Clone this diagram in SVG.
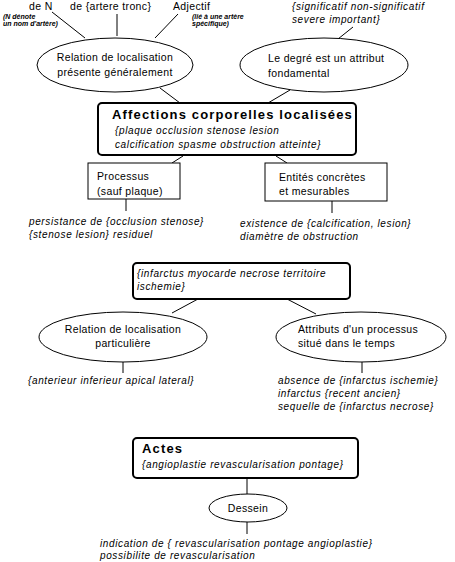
<svg xmlns="http://www.w3.org/2000/svg" width="455" height="562" viewBox="0 0 455 562">
<style>
text{font-family:"Liberation Sans",Arial,sans-serif;fill:#000}
.r{font-size:10.5px;letter-spacing:0.35px}
.i{font-size:10px;font-style:italic;letter-spacing:0.62px}
.t{font-size:7px;font-style:italic;font-weight:bold}
.b{font-size:13px;font-weight:bold;letter-spacing:1.15px}
.m{text-anchor:middle}
.shape{fill:#fff;stroke:#000;stroke-width:1}
.thick{fill:#fff;stroke:#000;stroke-width:2}
.c line{stroke:#000;stroke-width:1}
</style>
<rect width="455" height="562" fill="#fff"/>
<g class="c" id="connectors">
<line x1="52" y1="12" x2="85" y2="38"/>
<line x1="117" y1="14" x2="117" y2="36"/>
<line x1="178" y1="14" x2="155" y2="38"/>
<line x1="353" y1="27" x2="338" y2="39"/>
<line x1="160" y1="88" x2="180" y2="103"/>
<line x1="290" y1="90" x2="268" y2="103"/>
<line x1="183" y1="156" x2="172" y2="163"/>
<line x1="276" y1="156" x2="287" y2="163"/>
<line x1="126" y1="199" x2="126" y2="211"/>
<line x1="332" y1="201" x2="332" y2="213"/>
<line x1="198" y1="299" x2="172" y2="313"/>
<line x1="287" y1="299" x2="316" y2="314"/>
<line x1="123" y1="362" x2="123" y2="373"/>
<line x1="362" y1="362" x2="362" y2="373"/>
<line x1="247" y1="478" x2="247" y2="494"/>
<line x1="247" y1="522" x2="247" y2="534"/>
</g>
<g id="top-labels">
<text class="r" x="29" y="10">de N</text>
<text class="r" x="70" y="10">de {artere tronc}</text>
<text class="r" x="173" y="10">Adjectif</text>
<text class="t" x="3" y="19">(N dénote</text>
<text class="t" x="3" y="26">un nom d'artère)</text>
<text class="t" x="192" y="19">(lié à une artère</text>
<text class="t" x="192" y="26">spécifique)</text>
<text class="i" x="292" y="10">{significatif non-significatif</text>
<text class="i" x="292" y="23">severe important}</text>
</g>
<g id="rel-loc-generale">
<ellipse class="shape" cx="115" cy="65" rx="78" ry="27"/>
<text class="r m" x="115" y="61">Relation de localisation</text>
<text class="r m" x="115" y="76">présente généralement</text>
</g>
<g id="degre">
<ellipse class="shape" cx="324" cy="65" rx="84" ry="27"/>
<text class="r" x="268" y="62">Le degré est un attribut</text>
<text class="r" x="268" y="77">fondamental</text>
</g>
<g id="affections">
<rect class="thick" x="98" y="103" width="258" height="52" rx="4"/>
<text class="b" x="112" y="119">Affections corporelles localisées</text>
<text class="i" x="115" y="134">{plaque occlusion stenose lesion</text>
<text class="i" x="115" y="148">calcification spasme obstruction atteinte}</text>
</g>
<g id="processus">
<rect class="shape" x="88" y="163" width="92" height="36"/>
<text class="r" x="97" y="180">Processus</text>
<text class="r" x="97" y="195">(sauf plaque)</text>
</g>
<g id="entites">
<rect class="shape" x="265" y="163" width="122" height="38"/>
<text class="r" x="279" y="181">Entités concrètes</text>
<text class="r" x="279" y="195">et mesurables</text>
</g>
<g id="processus-notes">
<text class="i" x="29" y="225">persistance de {occlusion stenose}</text>
<text class="i" x="29" y="238">{stenose lesion} residuel</text>
</g>
<g id="entites-notes">
<text class="i" x="240" y="227">existence de {calcification, lesion}</text>
<text class="i" x="240" y="240">diamètre de obstruction</text>
</g>
<g id="infarctus">
<rect class="thick" x="133" y="263" width="217" height="36" rx="4"/>
<text class="i" x="137" y="277">{infarctus myocarde necrose territoire</text>
<text class="i" x="137" y="290">ischemie}</text>
</g>
<g id="rel-loc-particuliere">
<ellipse class="shape" cx="123" cy="337" rx="84" ry="25"/>
<text class="r m" x="123" y="333">Relation de localisation</text>
<text class="r m" x="123" y="347">particulière</text>
</g>
<g id="attributs-temps">
<ellipse class="shape" cx="361" cy="337" rx="85" ry="25"/>
<text class="r" x="298" y="333">Attributs d'un processus</text>
<text class="r" x="298" y="347">situé dans le temps</text>
</g>
<g id="localisation-notes">
<text class="i" x="28" y="384">{anterieur inferieur apical lateral}</text>
</g>
<g id="temps-notes">
<text class="i" x="278" y="384">absence de {infarctus ischemie}</text>
<text class="i" x="278" y="397">infarctus {recent ancien}</text>
<text class="i" x="278" y="410">sequelle de {infarctus necrose}</text>
</g>
<g id="actes">
<rect class="thick" x="133" y="438" width="225" height="40" rx="4"/>
<text class="b" x="142" y="453">Actes</text>
<text class="i" x="142" y="468">{angioplastie revascularisation pontage}</text>
</g>
<g id="dessein">
<ellipse class="shape" cx="248" cy="508" rx="39" ry="14"/>
<text class="r m" x="248" y="512">Dessein</text>
</g>
<g id="dessein-notes">
<text class="i" x="100" y="547">indication de { revascularisation pontage angioplastie}</text>
<text class="i" x="100" y="559">possibilite de revascularisation</text>
</g>
</svg>
